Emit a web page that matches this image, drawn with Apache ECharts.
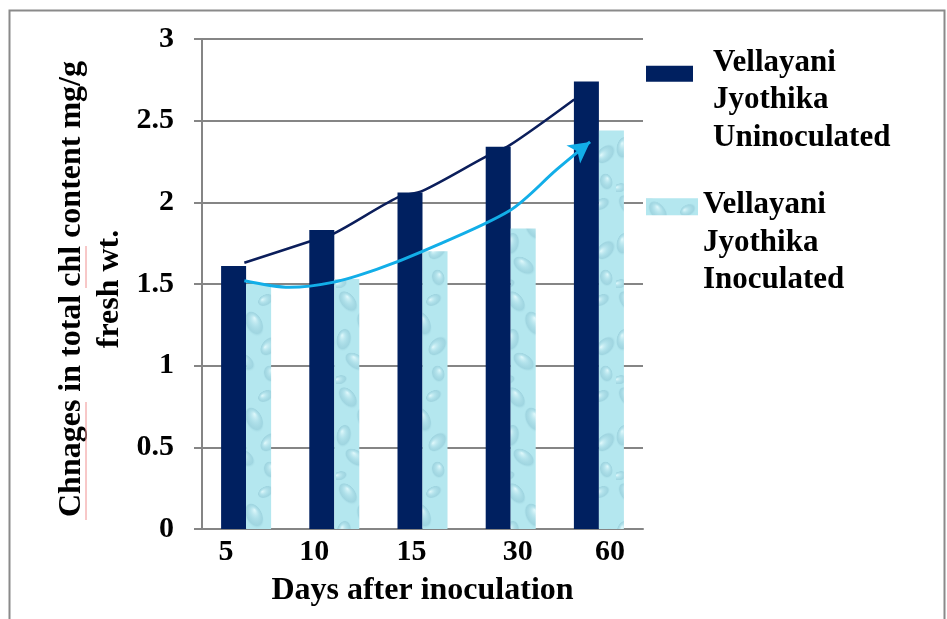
<!DOCTYPE html>
<html>
<head>
<meta charset="utf-8">
<script src="https://cdn.jsdelivr.net/npm/echarts@6/dist/echarts.min.js"></script>
<style>
html,body{margin:0;padding:0;background:#fff;}
#chart{width:947px;height:619px;}
</style>
</head>
<body>
<div id="chart"></div>
<script>
// ---- data ----
const categories = ['5', '10', '15', '30', '60'];
const uninoculated = [1.61, 1.83, 2.06, 2.34, 2.74];
const inoculated = [1.50, 1.53, 1.70, 1.84, 2.44];
const yTicks = [0, 0.5, 1, 1.5, 2, 2.5, 3];
// hand-drawn trend curves (x in category units, 0.5 = centre of first group)
const trendUninocX = [0.48, 1.22, 1.5, 2.22, 2.5, 3.22, 3.49, 4.22];
const trendUninocY = [1.63, 1.76, 1.81, 2.03, 2.07, 2.28, 2.35, 2.63];
const trendInocX = [0.48, 0.99, 1.48, 1.98, 2.5, 3.49, 4.02, 4.40];
const trendInocY = [1.52, 1.48, 1.51, 1.59, 1.70, 1.95, 2.20, 2.37];
const seriesNames = ['Vellayani Jyothika Uninoculated', 'Vellayani Jyothika Inoculated'];
const xTitle = 'Days after inoculation';
const yTitle = 'Chnages in total chl content mg/g\nfresh wt.';

// ---- styling ----
const FONT = '"Liberation Serif", "Times New Roman", serif';
const GRAY = '#858585';
const NAVY = '#002060';

function makeTexture() {
  const c = document.createElement('canvas');
  c.width = 56; c.height = 96;
  const g = c.getContext('2d');
  g.fillStyle = '#b4e7ef';
  g.fillRect(0, 0, c.width, c.height);
  // soft droplet-like blobs: [x, y, rx, ry, rotation]
  const blobs = [
    [12, 14, 13, 8, 0.9], [42, 12, 9, 6, -0.5], [30, 36, 14, 9, 1.1], [8, 52, 8, 12, 0.2],
    [46, 58, 12, 8, -0.8], [20, 74, 13, 8, 0.6], [46, 86, 9, 7, 1.3], [4, 92, 8, 5, -0.3]
  ];
  blobs.forEach(function (b) {
    g.save();
    g.translate(b[0], b[1]);
    g.rotate(b[4]);
    g.scale(b[2], b[3]);
    const gr = g.createRadialGradient(-0.35, -0.35, 0.05, 0, 0, 1);
    gr.addColorStop(0, 'rgba(225,249,252,0.85)');
    gr.addColorStop(0.4, 'rgba(175,222,232,0.6)');
    gr.addColorStop(0.8, 'rgba(135,192,207,0.45)');
    gr.addColorStop(1, 'rgba(180,231,239,0)');
    g.fillStyle = gr;
    g.beginPath(); g.arc(0, 0, 1, 0, Math.PI * 2); g.fill();
    g.restore();
  });
  return c;
}
const texture = { image: makeTexture(), repeat: 'repeat' };

const labelShift = [[0, 40, 0, 0], [0, 40, 0, 0], [0, 22, 0, 0], [0, 0, 0, 14], [0, 0, 0, 22]];
const rich = {};
labelShift.forEach(function (p, i) {
  rich['c' + i] = { padding: p, fontFamily: FONT, fontSize: 30, fontWeight: 'bold', color: '#000' };
});

const chart = echarts.init(document.getElementById('chart'), null, { renderer: 'canvas' });

const lastIdx = trendInocX.length - 1;
const inocData = trendInocX.map(function (x, i) {
  if (i === lastIdx) {
    return { value: [x, trendInocY[i]], symbol: 'arrow', symbolSize: [17, 21], symbolRotate: -53 };
  }
  return { value: [x, trendInocY[i]], symbol: 'none' };
});

const legendTok = { fontFamily: FONT, fontSize: 31, fontWeight: 'bold', color: '#000', lineHeight: 37.5 };
function legendRich(spacer) {
  return {
    s: { fontSize: 1, lineHeight: spacer },
    t: legendTok
  };
}
function legendFormatter(n) {
  return '{s| }\n' + n.split(' ').map(function (w) { return '{t|' + w + '}'; }).join('\n');
}

chart.setOption({
  backgroundColor: '#fff',
  animation: false,
  grid: { left: 202, right: 304, top: 39, bottom: 90, containLabel: false },
  legend: [
    {
      data: [seriesNames[0]], orient: 'vertical', left: 646, top: 17, padding: 0,
      itemWidth: 47, itemHeight: 16, icon: 'rect', selectedMode: false,
      formatter: legendFormatter,
      textStyle: { fontFamily: FONT, fontSize: 31, fontWeight: 'bold', color: '#000', padding: [0, 0, 0, 15], rich: legendRich(53) }
    },
    {
      data: [seriesNames[1]], orient: 'vertical', left: 646, top: 150, padding: 0,
      itemWidth: 52, itemHeight: 17, icon: 'rect', selectedMode: false,
      formatter: legendFormatter,
      textStyle: { fontFamily: FONT, fontSize: 31, fontWeight: 'bold', color: '#000', rich: legendRich(72) }
    }
  ],
  xAxis: [
    {
      type: 'category', data: categories,
      axisLine: { show: true, lineStyle: { color: GRAY, width: 2 } },
      axisTick: { show: false },
      axisLabel: {
        margin: 8,
        formatter: function (v, i) { return '{c' + i + '|' + v + '}'; },
        rich: rich
      },
      name: xTitle, nameLocation: 'middle', nameGap: 46,
      nameTextStyle: { fontFamily: FONT, fontSize: 32, fontWeight: 'bold', color: '#000' }
    },
    { type: 'value', min: 0, max: categories.length, show: false }
  ],
  yAxis: {
    type: 'value', min: yTicks[0], max: yTicks[yTicks.length - 1], interval: yTicks[1] - yTicks[0],
    axisLine: { show: true, lineStyle: { color: GRAY, width: 2 } },
    axisTick: { show: true, inside: false, length: 8, lineStyle: { color: GRAY, width: 2 } },
    splitLine: { show: true, lineStyle: { color: GRAY, width: 2 } },
    axisLabel: {
      margin: 28, fontFamily: FONT, fontSize: 30, fontWeight: 'bold', color: '#000',
      formatter: function (v) { return String(v); }
    }
  },
  series: [
    {
      name: seriesNames[0], type: 'bar', data: uninoculated, barWidth: 25, barGap: '0%',
      itemStyle: { color: NAVY }, z: 2
    },
    {
      name: seriesNames[1], type: 'bar', data: inoculated, barWidth: 25,
      itemStyle: { color: texture }, z: 2
    },
    {
      name: 'trendU', type: 'line', xAxisIndex: 1, smooth: 0.3, symbol: 'none', z: 1,
      data: trendUninocX.map(function (x, i) { return [x, trendUninocY[i]]; }),
      lineStyle: { color: '#0b1e5b', width: 2.5 }, silent: true
    },
    {
      name: 'trendI', type: 'line', xAxisIndex: 1, smooth: 0.3, z: 5, showSymbol: true,
      data: inocData,
      itemStyle: { color: '#12aee8' },
      lineStyle: { color: '#12aee8', width: 3 }, silent: true
    }
  ],
  graphic: [
    {
      type: 'rect', silent: true, z: -1,
      shape: { x: 9.5, y: 10.5, width: 935, height: 700 },
      style: { fill: null, stroke: '#8a8a8a', lineWidth: 2 }
    },
    {
      type: 'text', x: 91, y: 289, rotation: Math.PI / 2, silent: true,
      style: {
        text: yTitle, fontFamily: FONT, fontSize: 32, fontWeight: 'bold', fill: '#000',
        lineHeight: 38, align: 'center', verticalAlign: 'middle'
      }
    },
    {
      type: 'line', silent: true,
      shape: { x1: 86, y1: 402, x2: 86, y2: 520 },
      style: { stroke: '#f09090', lineWidth: 1 }
    },
    {
      type: 'line', silent: true,
      shape: { x1: 86, y1: 246, x2: 86, y2: 288 },
      style: { stroke: '#f09090', lineWidth: 1 }
    }
  ]
});
</script>
</body>
</html>
